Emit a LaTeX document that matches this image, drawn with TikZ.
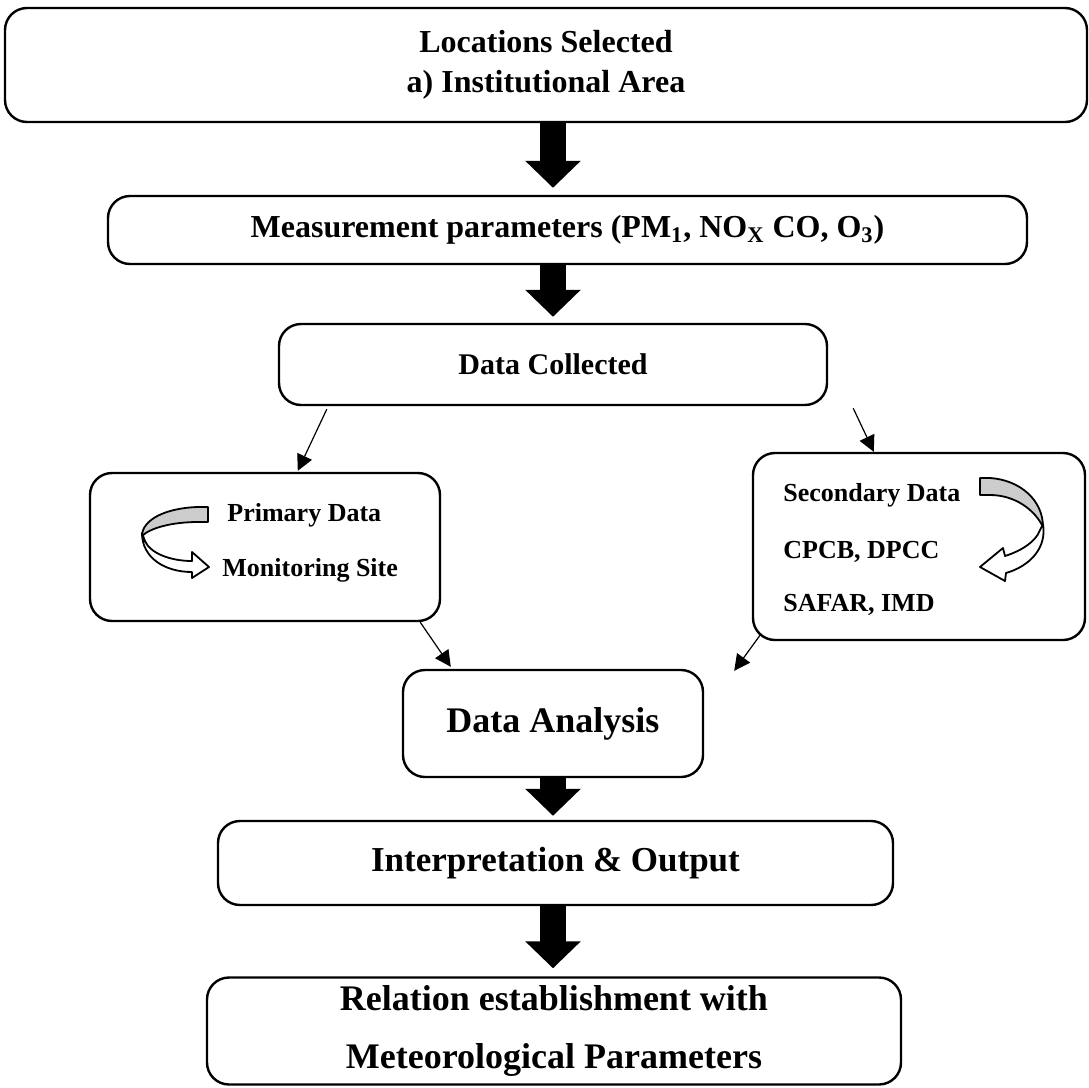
\documentclass[tikz,border=0pt]{standalone}
\usepackage{fontspec}
\setmainfont{Liberation Serif}
\usepackage{tikz}
\usetikzlibrary{positioning, calc, arrows.meta}

\begin{document}
\begin{tikzpicture}[
    x=0.5pt, y=-0.5pt,
    box/.style={draw, line width=1.2pt, rounded corners=11pt, align=center,
                font=\bfseries, inner sep=0pt},
    blk/.style={line width=13pt, -{Triangle[length=13.5pt, width=27pt]}},
    arw/.style={line width=0.6pt, -{Triangle[length=8pt, width=8pt]}},
    lbl/.style={anchor=base west, font=\fontsize{13}{15}\selectfont\bfseries, inner sep=0pt},
    ribbon/.style={draw, line width=0.9pt, line join=round},
]
\useasboundingbox (0,0) rectangle (1089,1088);

\node[box, minimum width=541pt, minimum height=57pt,
      font=\fontsize{16}{20}\selectfont\bfseries] (loc) at (546,65)
      {Locations Selected\\a) Institutional Area};
\node[box, minimum width=459.5pt, minimum height=34pt,
      font=\fontsize{16}{19}\selectfont\bfseries] (meas) at (567.5,230)
      {Measurement parameters (PM\textsubscript{1}, NO\textsubscript{X} CO, O\textsubscript{3})};
\node[box, minimum width=274pt, minimum height=40.5pt,
      font=\fontsize{15}{18}\selectfont\bfseries] (dc) at (553,364.5) {Data Collected};
\node[box, minimum width=175pt, minimum height=74pt] (prim) at (265,547) {};
\node[box, minimum width=166pt, minimum height=93.5pt] (sec) at (919,546.5) {};
\node[box, minimum width=150pt, minimum height=53.5pt,
      font=\fontsize{18}{21}\selectfont\bfseries] (da) at (553,723.5) {Data Analysis};
\node[box, minimum width=337.5pt, minimum height=42pt,
      font=\fontsize{17.5}{21}\selectfont\bfseries] (interp) at (555.5,863) {Interpretation \& Output};
\node[box, minimum width=347pt, minimum height=53.5pt,
      font=\fontsize{18}{29}\selectfont\bfseries] (rel) at (554,1031)
      {Relation establishment with\\Meteorological Parameters};

% Texts in the data boxes
\node[lbl] (pd) at (227,521) {Primary Data};
\node[lbl] (ms) at (222,576) {Monitoring Site};
\node[lbl] (sd) at (783,501.5) {Secondary Data};
\node[lbl] (cp) at (783,558) {CPCB, DPCC};
\node[lbl] (sa) at (783,611.5) {SAFAR, IMD};

% Block arrows
\draw[blk, shorten >=3.5pt] (loc.south -| dc.north) -- (meas.north -| dc.north);
\draw[blk, shorten >=3pt] (meas.south -| dc.north) -- (dc.north);
\draw[blk, shorten >=2pt] (da.south) -- (interp.north -| da.south);
\draw[blk, shorten >=4pt] (interp.south -| da.south) -- (rel.north -| da.south);

% Thin arrows
\draw[arw] ($(dc.south west)+(49,3)$) -- ($(prim.north west)+(209,-1)$);
\draw[arw] ($(dc.south east)+(25,2)$) -- ($(sec.north west)+(122,0)$);
\draw[arw] ($(prim.south east)+(-21,0)$) -- ($(da.north west)+(49,-2)$);
\draw[arw] ($(sec.south west)+(9,-7)$) -- ($(da.north east)+(30,2)$);

% Curved ribbon arrow, primary data
\draw[ribbon, fill=white] (142,533) .. controls (142,558) and (165,572) .. (192,572)
    -- (192,578) -- (209,567) -- (192,552) -- (192,561)
    .. controls (170,561) and (150,553) .. (145,541) -- cycle;
\draw[ribbon, fill=gray!40] (208,507) -- (198,507)
    .. controls (165,508) and (142,520) .. (142,536)
    .. controls (150,528) and (172,522) .. (198,522) -- (208,522) -- cycle;

% Curved ribbon arrow, secondary data
\draw[ribbon, fill=white] (1043,524) .. controls (1047,548) and (1030,566) .. (1006,573)
    -- (1005,581) -- (980,567) -- (1003,548) -- (1005,556)
    .. controls (1024,550) and (1036,540) .. (1039,532) -- cycle;
\draw[ribbon, fill=gray!40] (980,478) -- (990,478)
    .. controls (1020,480) and (1043,500) .. (1043,527)
    .. controls (1035,510) and (1015,495) .. (990,495) -- (980,495) -- cycle;
\end{tikzpicture}
\end{document}
